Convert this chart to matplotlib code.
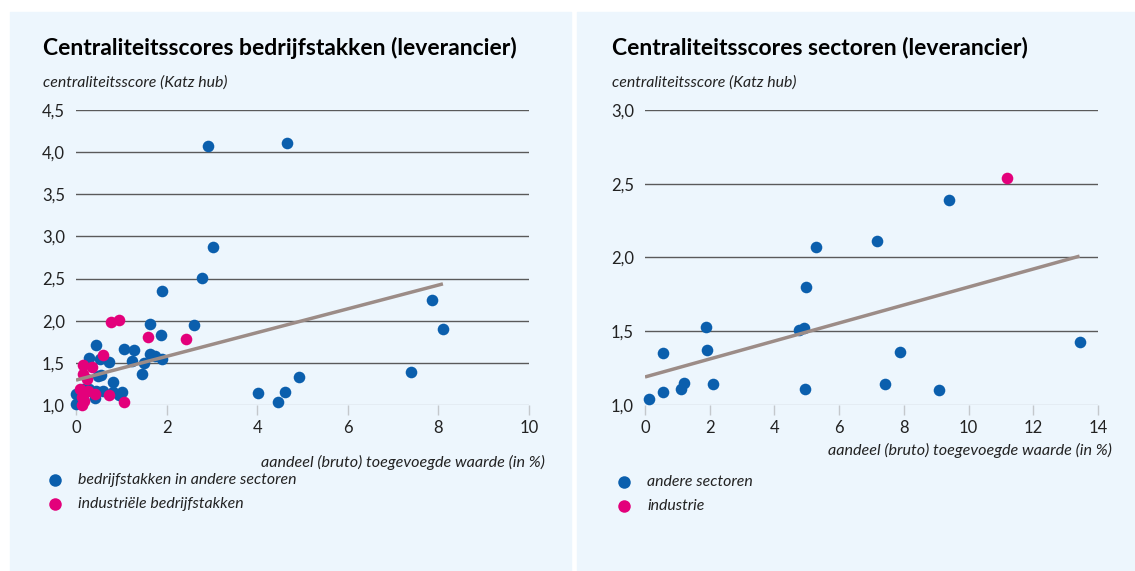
import numpy as np
import matplotlib
matplotlib.use("Agg")
import matplotlib.pyplot as plt
import matplotlib.patches as mpatches
from matplotlib.lines import Line2D

plt.rcParams["font.family"] = ["Lato", "DejaVu Sans"]

# ── data: left panel (bedrijfstakken) ───────────────────────
left_blue_x = [2.91, 4.66, 3.02, 2.78, 1.89, 2.61, 7.86, 8.10, 7.40, 4.02, 4.46, 4.62, 4.93,
               1.64, 1.88, 0.44, 1.05, 1.27, 0.29, 0.52, 0.72, 1.24, 1.51, 1.64, 1.75, 1.90,
               1.46, 0.49, 0.55, 0.81, 0.00, 0.00, 0.15, 0.29, 0.44, 0.42, 0.60, 0.81, 0.96,
               1.02, 0.15]
left_blue_y = [4.07, 4.11, 2.87, 2.51, 2.35, 1.95, 2.25, 1.90, 1.39, 1.14, 1.03, 1.16, 1.33,
               1.96, 1.83, 1.71, 1.67, 1.65, 1.56, 1.54, 1.51, 1.52, 1.50, 1.60, 1.58, 1.54,
               1.37, 1.35, 1.36, 1.27, 1.13, 1.01, 1.19, 1.19, 1.17, 1.08, 1.17, 1.16, 1.12,
               1.16, 1.07]
left_pink_x = [0.77, 0.96, 1.58, 2.43, 0.59, 0.15, 0.35, 0.16, 0.24, 0.09, 0.26, 0.43, 0.72,
               1.05, 0.13, 0.13, 0.18]
left_pink_y = [1.99, 2.01, 1.81, 1.78, 1.59, 1.47, 1.45, 1.37, 1.31, 1.19, 1.17, 1.13, 1.12,
               1.04, 1.09, 1.00, 1.05]
left_trend = [1.295, 0.141]   # intercept, slope

# ── data: right panel (sectoren) ────────────────────────────
right_blue_x = [5.27, 7.16, 9.38, 4.99, 1.89, 4.75, 4.91, 13.43, 0.57, 1.93, 7.89, 1.20,
                1.12, 2.10, 4.93, 7.42, 9.10, 0.57, 0.13]
right_blue_y = [2.07, 2.11, 2.39, 1.80, 1.53, 1.51, 1.52, 1.43, 1.35, 1.37, 1.36, 1.15,
                1.11, 1.14, 1.11, 1.14, 1.10, 1.09, 1.04]
right_pink_x = [11.20]
right_pink_y = [2.54]
right_trend = [1.19, 0.061]

left_xticks = [0, 2, 4, 6, 8, 10]
left_yticks = [1.0, 1.5, 2.0, 2.5, 3.0, 3.5, 4.0, 4.5]
right_xticks = [0, 2, 4, 6, 8, 10, 12, 14]
right_yticks = [1.0, 1.5, 2.0, 2.5, 3.0]

BLUE = "#0b5fad"
PINK = "#e3007b"
TREND = "#9c8c87"
BG = "#edf6fd"
TXT = "#222222"

W, H = 1135, 571
fig = plt.figure(figsize=(W / 100, H / 100), dpi=100)
fig.patch.set_facecolor("white")


def fx(px):
    return px / W


def fy(py):
    return 1 - py / H


# background panels
for x0, w in [(10, 561), (577, 558)]:
    fig.patches.append(mpatches.Rectangle((fx(x0), 0), fx(w), fy(12), transform=fig.transFigure,
                                          color=BG, zorder=-5))


def panel(x0, x1, xmax, ymax, xticks, yticks, bx, by, px_, py_, trend, title, leg, tx, xl_right, xl_y, leg_x, leg_y):
    ax = fig.add_axes([fx(x0), fy(405), fx(x1 - x0), fy(110) - fy(405)])
    ax.set_facecolor("none")
    ax.set_xlim(0, xmax)
    ax.set_ylim(1.0, ymax)
    for s in ax.spines.values():
        s.set_visible(False)
    for v in yticks[1:]:
        ax.axhline(v, color="#5a5a5a", lw=1.0, zorder=1)
    ax.axhline(1.0, color="#c4c8cc", lw=1.0, zorder=1)
    ax.set_xticks(xticks)
    ax.set_xticklabels([str(t) for t in xticks], fontsize=12, color=TXT)
    ax.set_yticks(yticks)
    ax.set_yticklabels([f"{t:.1f}".replace(".", ",") for t in yticks], fontsize=12, color=TXT)
    ax.tick_params(axis="x", length=7, width=1, color="#c4c8cc", pad=4)
    ax.tick_params(axis="y", length=0, pad=8)
    ax.scatter(bx, by, s=70, color=BLUE, linewidths=0, zorder=3, clip_on=False)
    ax.scatter(px_, py_, s=70, color=PINK, linewidths=0, zorder=4, clip_on=False)
    xs = np.array([0, max(bx + px_)])
    ax.plot(xs, trend[0] + trend[1] * xs, color=TREND, lw=2.5, zorder=5, solid_capstyle="butt")

    fig.text(fx(tx), fy(48), title, fontsize=16.5, fontweight="bold", va="center", ha="left")
    fig.text(fx(tx), fy(83), "centraliteitsscore (Katz hub)", fontsize=11.4, style="italic",
             va="center", ha="left", color=TXT)
    fig.text(fx(xl_right), fy(xl_y), "aandeel (bruto) toegevoegde waarde (in %)", fontsize=11.6,
             style="italic", va="center", ha="right", color=TXT)
    for i, (lab, col) in enumerate(zip(leg, [BLUE, PINK])):
        yy = leg_y + i * 24
        fig.add_artist(Line2D([fx(leg_x)], [fy(yy)], marker="o", markersize=9, color=col,
                              markeredgewidth=0, transform=fig.transFigure))
        fig.text(fx(leg_x + 23), fy(yy), lab, fontsize=11.4, style="italic", va="center",
                 ha="left", color=TXT)
    return ax


panel(76, 529, 10, 4.5, left_xticks, left_yticks, left_blue_x, left_blue_y, left_pink_x, left_pink_y,
      left_trend, "Centraliteitsscores bedrijfstakken (leverancier)",
      ["bedrijfstakken in andere sectoren", "industriële bedrijfstakken"], 43, 545, 462, 55, 480)
panel(645, 1098, 14, 3.0, right_xticks, right_yticks, right_blue_x, right_blue_y, right_pink_x,
      right_pink_y, right_trend, "Centraliteitsscores sectoren (leverancier)",
      ["andere sectoren", "industrie"], 612, 1112, 450, 624, 482)

plt.savefig("out.png", dpi=100)
